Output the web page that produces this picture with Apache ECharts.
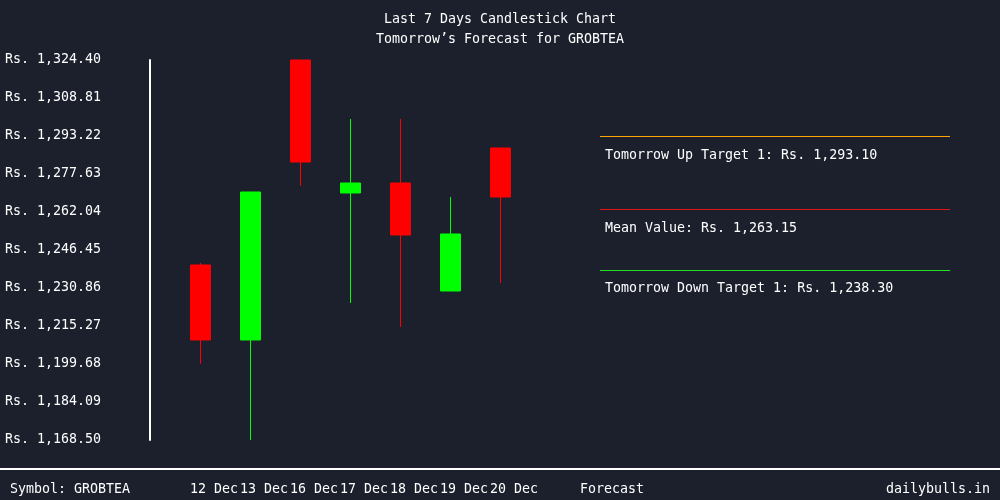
<!DOCTYPE html>
<html><head><meta charset="utf-8">
<script src="https://cdn.jsdelivr.net/npm/echarts@6/dist/echarts.min.js"></script>
<style>html,body{margin:0;padding:0;background:#1b202c}#c{width:1000px;height:500px}</style>
</head><body><div id="c"></div>
<script>
const categories = ['12 Dec', '13 Dec', '16 Dec', '17 Dec', '18 Dec', '19 Dec', '20 Dec'];
const openValues  = [1240.30, 1209.53, 1324.40, 1269.84, 1273.94, 1229.63, 1288.30];
const closeValues = [1209.53, 1270.25, 1282.55, 1273.94, 1252.61, 1253.02, 1268.19];
const lowValues   = [1199.80, 1168.50, 1272.83, 1224.71, 1214.86, 1229.63, 1232.91];
const highValues  = [1241.12, 1270.25, 1324.40, 1300.20, 1300.20, 1268.19, 1288.30];
const yTickValues = [1168.50, 1184.09, 1199.68, 1215.27, 1230.86, 1246.45, 1262.04, 1277.63, 1293.22, 1308.81, 1324.40];
const forecastUp = 1293.10;
const forecastMean = 1263.15;
const forecastDown = 1238.30;
const symbol = 'GROBTEA';

const FONT = '"DejaVu Sans Mono", monospace';
const FS = 13.3;
const fmt = v => 'Rs. ' + Number(v).toLocaleString('en-US', {minimumFractionDigits: 2, maximumFractionDigits: 2});
const yMin = yTickValues[0], yMax = yTickValues[yTickValues.length - 1];

const candleData = categories.map((c, i) => [openValues[i], closeValues[i], lowValues[i], highValues[i]]);

const chart = echarts.init(document.getElementById('c'), null, {renderer: 'canvas'});
chart.setOption({
  backgroundColor: '#1b202c',
  animation: false,
  title: {
    text: 'Last 7 Days Candlestick Chart',
    subtext: 'Tomorrow\u2019s Forecast for ' + symbol,
    left: 'center', top: 13, itemGap: 7, padding: 0,
    textStyle: {color: '#ffffff', fontFamily: FONT, fontSize: FS, fontWeight: 'normal'},
    subtextStyle: {color: '#ffffff', fontFamily: FONT, fontSize: FS}
  },
  grid: [
    {left: 175.5, width: 350, top: 60, bottom: 60},
    {left: 600, width: 350, top: 60, bottom: 60}
  ],
  xAxis: [
    {type: 'category', gridIndex: 0, data: categories, boundaryGap: true,
     axisLine: {show: false}, axisTick: {show: false}, splitLine: {show: false},
     axisLabel: {interval: 0, hideOverlap: false, color: '#ffffff', fontFamily: FONT, fontSize: FS, margin: 43, align: 'left', padding: [0, 0, 0, -10.5]}},
    {type: 'category', gridIndex: 1, data: [''], show: false}
  ],
  yAxis: [
    {type: 'value', gridIndex: 0, min: yMin, max: yMax, offset: 25.5,
     axisLine: {show: true, lineStyle: {color: '#ffffff', width: 2}},
     axisTick: {show: false}, splitLine: {show: false},
     axisLabel: {customValues: yTickValues, formatter: fmt, color: '#ffffff', fontFamily: FONT, fontSize: FS, margin: 145, align: 'left', padding: [0, 0, 3, 0]}},
    {type: 'value', gridIndex: 1, min: yMin, max: yMax, show: false}
  ],
  series: [
    {type: 'candlestick', xAxisIndex: 0, yAxisIndex: 0, data: candleData, barWidth: 20,
     itemStyle: {color: '#00ff00', color0: '#ff0000', borderColor: '#00ff00', borderColor0: '#ff0000', borderWidth: 1}},
    {type: 'line', xAxisIndex: 1, yAxisIndex: 1, data: [], silent: true,
     markLine: {
       symbol: 'none', silent: true, animation: false,
       label: {position: 'insideStartBottom', distance: [5, 12], color: '#ffffff', fontFamily: FONT, fontSize: FS},
       data: [
         {yAxis: forecastUp, lineStyle: {color: '#ffa500', width: 1, type: 'solid'}, label: {formatter: 'Tomorrow Up Target 1: ' + fmt(forecastUp), distance: [5, 13]}},
         {yAxis: forecastMean, lineStyle: {color: '#e01515', width: 1, type: 'solid'}, label: {formatter: 'Mean Value: ' + fmt(forecastMean), distance: [5, 13]}},
         {yAxis: forecastDown, lineStyle: {color: '#22e022', width: 1, type: 'solid'}, label: {formatter: 'Tomorrow Down Target 1: ' + fmt(forecastDown), distance: [5, 12]}}
       ]
     }}
  ],
  graphic: [
    {type: 'line', shape: {x1: 0, y1: 469, x2: 1000, y2: 469}, style: {stroke: '#ffffff', lineWidth: 2}},
    {type: 'text', left: 10, top: 483, style: {text: 'Symbol: ' + symbol, fill: '#ffffff', font: FS + 'px ' + FONT}},
    {type: 'text', left: 580, top: 483, style: {text: 'Forecast', fill: '#ffffff', font: FS + 'px ' + FONT}},
    {type: 'text', right: 10, top: 483, style: {text: 'dailybulls.in', fill: '#ffffff', font: FS + 'px ' + FONT}}
  ]
});
</script></body></html>
